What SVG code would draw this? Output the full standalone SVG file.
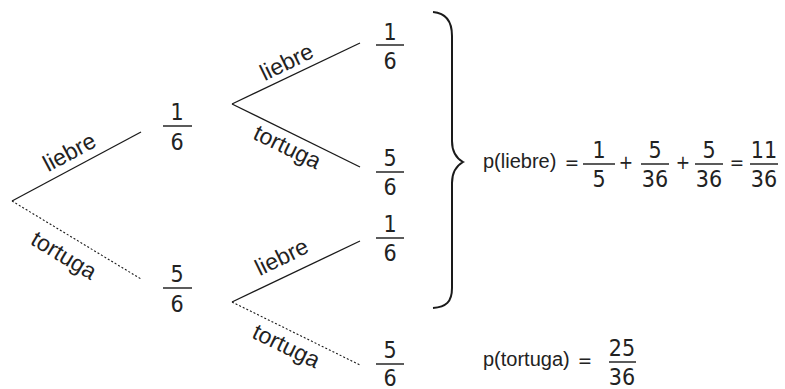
<svg xmlns="http://www.w3.org/2000/svg" width="785" height="389" viewBox="0 0 785 389">
<style>
.num{font-family:"Liberation Sans Narrow","DejaVu Sans Condensed","Liberation Sans",sans-serif;font-size:23px;text-anchor:middle;fill:#222}
.op{font-family:"Liberation Sans Narrow","DejaVu Sans Condensed","Liberation Sans",sans-serif;font-size:19px;text-anchor:middle;fill:#222}
.lbl{font-family:"Liberation Sans",Arial,sans-serif;font-size:23px;text-anchor:middle;fill:#222}
.word{font-family:"Liberation Sans",Arial,sans-serif;font-size:20px;fill:#222}
.bar{stroke:#333;stroke-width:1.6}
.solid{stroke:#1a1a1a;stroke-width:1.3;fill:none}
.dot{stroke:#1a1a1a;stroke-width:1.1;stroke-dasharray:2 2;fill:none}
</style>
<rect width="785" height="389" fill="#fff"/>
<g id="connectors">
<line class="solid" x1="12" y1="201" x2="141" y2="132"/>
<line class="dot" x1="12" y1="201" x2="141" y2="279"/>
<line class="solid" x1="232" y1="104" x2="360" y2="43"/>
<line class="solid" x1="232" y1="104" x2="360" y2="167"/>
<line class="solid" x1="232" y1="302" x2="360" y2="241"/>
<line class="dot" x1="232" y1="302" x2="360" y2="365"/>
</g>
<g id="edge-labels">
<text class="lbl" transform="translate(73,159) rotate(-28)">liebre</text>
<text class="lbl" transform="translate(60,262) rotate(31)">tortuga</text>
<text class="lbl" transform="translate(290,69) rotate(-26)">liebre</text>
<text class="lbl" transform="translate(284,154) rotate(26)">tortuga</text>
<text class="lbl" transform="translate(285,264) rotate(-26)">liebre</text>
<text class="lbl" transform="translate(283,353) rotate(26)">tortuga</text>
</g>
<g id="n1">
<text class="num" x="177" y="120">1</text><line class="bar" x1="163" y1="126" x2="192" y2="126"/><text class="num" x="177" y="150">6</text>
</g>
<g id="n2">
<text class="num" x="177" y="282">5</text><line class="bar" x1="163" y1="288" x2="192" y2="288"/><text class="num" x="177" y="312">6</text>
</g>
<g id="n3">
<text class="num" x="390" y="40">1</text><line class="bar" x1="376" y1="45" x2="404" y2="45"/><text class="num" x="390" y="69">6</text>
</g>
<g id="n4">
<text class="num" x="390" y="166">5</text><line class="bar" x1="376" y1="172" x2="404" y2="172"/><text class="num" x="390" y="195">6</text>
</g>
<g id="n5">
<text class="num" x="390" y="232">1</text><line class="bar" x1="376" y1="238" x2="404" y2="238"/><text class="num" x="390" y="261">6</text>
</g>
<g id="n6">
<text class="num" x="390" y="358">5</text><line class="bar" x1="376" y1="364" x2="404" y2="364"/><text class="num" x="390" y="386">6</text>
</g>
<g id="brace">
<path d="M433,12 C446,13 452,21 452,36 L452,141 C452,152 456,158 463,162 C456,166 452,172 452,183 L452,288 C452,302 446,307 433,308" fill="none" stroke="#1a1a1a" stroke-width="2"/>
</g>
<g id="p-liebre">
<text class="word" x="483" y="168">p(liebre)</text>
<text class="op" x="572" y="169">=</text>
<text class="num" x="599" y="158">1</text><line class="bar" x1="583" y1="164" x2="615" y2="164"/><text class="num" x="599" y="187">5</text>
<text class="op" x="626" y="169">+</text>
<text class="num" x="655" y="158">5</text><line class="bar" x1="641" y1="164" x2="669" y2="164"/><text class="num" x="655" y="187">36</text>
<text class="op" x="683" y="169">+</text>
<text class="num" x="709" y="158">5</text><line class="bar" x1="695" y1="164" x2="723" y2="164"/><text class="num" x="709" y="187">36</text>
<text class="op" x="737" y="169">=</text>
<text class="num" x="764" y="158">11</text><line class="bar" x1="750" y1="164" x2="778" y2="164"/><text class="num" x="764" y="187">36</text>
</g>
<g id="p-tortuga">
<text class="word" x="483" y="366">p(tortuga)</text>
<text class="op" x="585" y="367">=</text>
<text class="num" x="622" y="356">25</text><line class="bar" x1="609" y1="362" x2="636" y2="362"/><text class="num" x="622" y="385">36</text>
</g>
</svg>
